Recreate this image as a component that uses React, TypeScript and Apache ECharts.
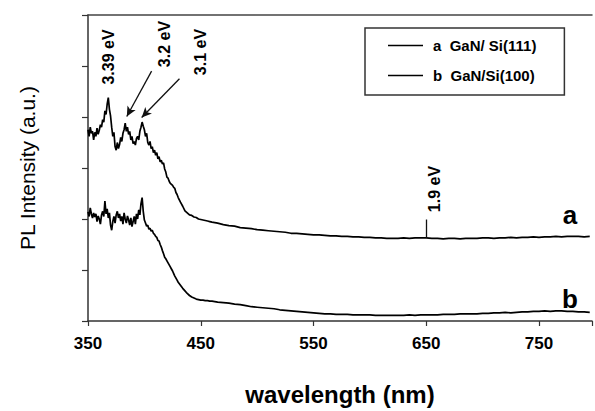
import React, { useEffect, useRef } from "react";
import * as echarts from "echarts";

// wavelength grid (nm): 1 nm steps in the noisy band-edge region, coarser afterwards
const range = (a: number, b: number, s: number) => {
  const out: number[] = [];
  for (let v = a; v <= b; v += s) out.push(v);
  return out;
};
const wavelengths: number[] = [...range(350, 430, 1), ...range(432, 460, 2), ...range(465, 795, 5)];

// curve a: GaN/ Si(111)
const seriesA: number[] = [
  3.75, 3.62, 3.8, 3.68, 3.72, 3.55, 3.7, 3.62, 3.78, 3.66,
  3.74, 3.85, 3.8, 3.95, 3.9, 4.12, 4.05, 4.25, 4.38, 4.15,
  4.02, 3.8, 3.62, 3.7, 3.42, 3.35, 3.5, 3.38, 3.46, 3.6,
  3.52, 3.68, 3.75, 3.88, 3.72, 3.8, 3.66, 3.72, 3.55, 3.62,
  3.48, 3.52, 3.45, 3.58, 3.62, 3.55, 3.72, 3.8, 3.9, 3.82,
  3.75, 3.62, 3.68, 3.5, 3.45, 3.52, 3.38, 3.42, 3.3, 3.35,
  3.25, 3.3, 3.18, 3.22, 3.12, 3.15, 3.08, 3.1, 2.98, 2.92,
  2.82, 2.8, 2.74, 2.7, 2.68, 2.66, 2.62, 2.6, 2.52, 2.48,
  2.42,
  2.33, 2.25, 2.16, 2.12, 2.08, 2.07, 2.04, 2.03, 2.0, 1.99,
  1.98, 1.97, 1.96, 1.95, 1.94,
  1.92, 1.89, 1.87, 1.86, 1.83, 1.82, 1.81, 1.79, 1.78, 1.77,
  1.76, 1.75, 1.74, 1.72, 1.72, 1.71, 1.7, 1.69, 1.69, 1.68,
  1.67, 1.67, 1.66, 1.66, 1.65, 1.65, 1.64, 1.64, 1.63, 1.63,
  1.62, 1.62, 1.62, 1.63, 1.62, 1.63, 1.63, 1.63, 1.62, 1.62,
  1.61, 1.62, 1.62, 1.61, 1.62, 1.62, 1.62, 1.63, 1.63, 1.62,
  1.63, 1.63, 1.64, 1.63, 1.64, 1.64, 1.65, 1.64, 1.65, 1.65,
  1.66, 1.65, 1.66, 1.66, 1.66, 1.65, 1.66,
];

// curve b: GaN/Si(100)
const seriesB: number[] = [
  2.14, 2.05, 2.22, 2.1, 2.02, 2.12, 2.04, 2.1, 1.95, 2.06,
  2.0, 1.9, 2.08, 2.15, 2.05, 2.35, 2.1, 2.2, 2.02, 2.12,
  1.88, 1.78, 1.95, 2.05, 1.92, 2.08, 2.15, 2.02, 2.1, 1.96,
  2.05, 1.9, 2.12, 2.0, 1.92, 2.06, 1.98, 1.88, 2.02, 1.85,
  1.95, 2.05, 1.9, 2.1, 2.0, 2.18, 2.08, 2.3, 2.42, 2.15,
  1.98, 1.92, 1.86, 1.88, 1.8, 1.82, 1.76, 1.78, 1.72, 1.7,
  1.66, 1.64, 1.58, 1.57, 1.5, 1.45, 1.38, 1.32, 1.25, 1.22,
  1.18, 1.14, 1.1, 1.06, 1.02, 0.98, 0.93, 0.88, 0.84, 0.8,
  0.76,
  0.7, 0.64, 0.59, 0.54, 0.5, 0.47, 0.45, 0.43, 0.42, 0.41,
  0.41, 0.4, 0.4, 0.39, 0.39,
  0.37, 0.36, 0.35, 0.33, 0.32, 0.3, 0.28, 0.27, 0.26, 0.25,
  0.24, 0.22, 0.21, 0.2, 0.19, 0.18, 0.17, 0.16, 0.15, 0.14,
  0.14, 0.13, 0.13, 0.13, 0.12, 0.12, 0.12, 0.12, 0.11, 0.11,
  0.11, 0.11, 0.11, 0.11, 0.12, 0.11, 0.12, 0.12, 0.12, 0.12,
  0.13, 0.13, 0.13, 0.14, 0.14, 0.14, 0.14, 0.15, 0.15, 0.16,
  0.16, 0.17, 0.16, 0.17, 0.18, 0.18, 0.19, 0.19, 0.2, 0.19,
  0.2, 0.2, 0.19, 0.19, 0.18, 0.18, 0.17,
];

const xTicks: number[] = [350, 450, 550, 650, 750];
const seriesNames: string[] = ["a  GaN/ Si(111)", "b  GaN/Si(100)"];

const FONT = "'Liberation Sans', Arial, Helvetica, sans-serif";

export default function App() {
  const ref = useRef<HTMLDivElement>(null);
  useEffect(() => {
    if (!ref.current) return;
    const chart = echarts.init(ref.current, null, { renderer: "svg" });
    const pairsA = wavelengths.map((w, i) => [w, seriesA[i]]);
    const pairsB = wavelengths.map((w, i) => [w, seriesB[i]]);
    const vText = (text: string, x: number, y: number) => ({
      type: "text",
      x,
      y,
      rotation: Math.PI / 2,
      style: {
        text,
        fill: "#000",
        font: `bold 16px ${FONT}`,
        textAlign: "center",
        textVerticalAlign: "middle",
      },
    });
    chart.setOption({
      animation: false,
      backgroundColor: "#fff",
      grid: { left: 88, top: 15, right: 0, bottom: 74 },
      legend: {
        orient: "vertical",
        left: 365,
        top: 28,
        padding: [9, 28, 11, 23],
        itemGap: 13,
        itemWidth: 35,
        itemHeight: 1.5,
        icon: "rect",
        borderColor: "#333",
        borderWidth: 1.5,
        textStyle: {
          fontFamily: FONT,
          fontWeight: "bold",
          fontSize: 15,
          lineHeight: 17,
          color: "#000",
          padding: [0, 0, 0, 5],
        },
        data: seriesNames,
      },
      xAxis: [
        {
          type: "value",
          min: 350,
          max: 797,
          interval: 100,
          name: "wavelength (nm)",
          nameLocation: "middle",
          nameGap: 61,
          nameTextStyle: { fontFamily: FONT, fontWeight: "bold", fontSize: 24, color: "#000" },
          axisLine: { show: true, lineStyle: { color: "#333", width: 1.5 } },
          axisTick: { show: true, inside: false, length: 5, lineStyle: { color: "#333", width: 1.2 } },
          axisLabel: {
            margin: 14,
            fontFamily: FONT,
            fontWeight: "bold",
            fontSize: 17,
            color: "#000",
            formatter: (v: number) => (xTicks.includes(v) ? String(v) : ""),
          },
          splitLine: { show: false },
        },
        {
          type: "value",
          position: "top",
          min: 350,
          max: 797,
          axisLine: { show: true, lineStyle: { color: "#444", width: 1.5 } },
          axisTick: { show: false },
          axisLabel: { show: false },
          splitLine: { show: false },
        },
      ],
      yAxis: {
        type: "value",
        min: 0,
        max: 6,
        interval: 1,
        name: "PL Intensity (a.u.)",
        nameLocation: "middle",
        nameGap: 50,
        nameTextStyle: { fontFamily: FONT, fontSize: 21, color: "#000" },
        axisLine: { show: true, lineStyle: { color: "#333", width: 1.5 } },
        axisTick: { show: true, inside: false, length: 6, lineStyle: { color: "#333", width: 1.2 } },
        axisLabel: { show: false },
        splitLine: { show: false },
      },
      series: [
        {
          name: seriesNames[0],
          type: "line",
          data: pairsA,
          symbol: "none",
          lineStyle: { color: "#000", width: 1.7 },
          itemStyle: { color: "#000" },
          markLine: {
            silent: true,
            symbol: ["none", "none"],
            label: { show: false },
            lineStyle: { color: "#111", width: 1.3, type: "solid" },
            data: [
              [
                { coord: [406.4, 4.9], symbol: "none" },
                { coord: [384.4, 4.01], symbol: "arrow", symbolSize: [7, 10] },
              ],
              [
                { coord: [431.1, 4.75], symbol: "none" },
                { coord: [397.6, 3.99], symbol: "arrow", symbolSize: [7, 10] },
              ],
              [
                { coord: [650, 1.63], symbol: "none" },
                { coord: [650, 1.99], symbol: "none" },
              ],
            ],
          },
        },
        {
          name: seriesNames[1],
          type: "line",
          data: pairsB,
          symbol: "none",
          lineStyle: { color: "#000", width: 1.7 },
          itemStyle: { color: "#000" },
        },
      ],
      graphic: [
        vText("3.39 eV", 108, 57),
        vText("3.2 eV", 164, 44),
        vText("3.1 eV", 200, 52),
        vText("1.9 eV", 434, 189),
        {
          type: "text",
          x: 570,
          y: 215,
          style: { text: "a", fill: "#000", font: `bold 26px ${FONT}`, textAlign: "center", textVerticalAlign: "middle" },
        },
        {
          type: "text",
          x: 570,
          y: 299,
          style: { text: "b", fill: "#000", font: `bold 26px ${FONT}`, textAlign: "center", textVerticalAlign: "middle" },
        },
      ],
    });
    return () => chart.dispose();
  }, []);
  return (
    <div
      ref={ref}
      style={{ position: "fixed", left: 0, top: 0, width: 595, height: 411, background: "#fff" }}
    />
  );
}
